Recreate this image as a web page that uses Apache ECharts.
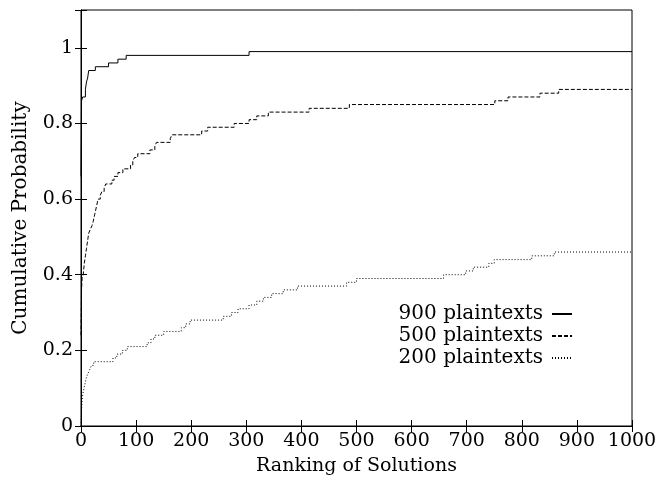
<!DOCTYPE html>
<html>
<head>
<meta charset="utf-8">
<script src="https://cdn.jsdelivr.net/npm/echarts@6/dist/echarts.min.js"></script>
<style>
  html, body { margin: 0; padding: 0; background: #fff; }
  #chart { width: 658px; height: 477px; }
</style>
</head>
<body>
<div id="chart"></div>
<script>
// 900 plaintexts
var rank900 = [0, 1, 3, 8, 10, 12, 14, 26, 50, 67, 82, 305, 1000];
var prob900 = [0.66, 0.86, 0.87, 0.89, 0.91, 0.92, 0.94, 0.95, 0.96, 0.97, 0.98, 0.99, 0.99];

// 500 plaintexts
var rank500 = [0, 1, 2, 4, 6, 8, 10, 12, 14, 17, 20, 22, 25, 28, 31, 35, 38, 42, 45, 56, 60, 67, 76, 90, 94, 97, 103,
               125, 134, 137, 162, 165, 219, 230, 278, 305, 319, 340, 414, 487, 751, 775, 833, 867, 1000];
var prob500 = [0.24, 0.36, 0.39, 0.40, 0.43, 0.45, 0.47, 0.49, 0.51, 0.52, 0.53, 0.54, 0.56, 0.58, 0.60, 0.61, 0.62, 0.63, 0.64, 0.65, 0.66, 0.67, 0.68, 0.69, 0.70, 0.71, 0.72,
               0.73, 0.74, 0.75, 0.76, 0.77, 0.78, 0.79, 0.80, 0.81, 0.82, 0.83, 0.84, 0.85, 0.86, 0.87, 0.88, 0.89, 0.89];

// 200 plaintexts
var rank200 = [0, 1, 2, 4, 7, 10, 13, 16, 19, 23, 58, 65, 75, 84, 120, 127, 134, 150, 182, 190, 198, 258, 273, 285,
               305, 319, 331, 346, 367, 393, 482, 500, 658, 698, 712, 740, 750, 818, 859, 1000];
var prob200 = [0.00, 0.04, 0.07, 0.09, 0.11, 0.13, 0.14, 0.15, 0.16, 0.17, 0.18, 0.19, 0.20, 0.21, 0.22, 0.23, 0.24, 0.25, 0.26, 0.27, 0.28, 0.29, 0.30, 0.31,
               0.32, 0.33, 0.34, 0.35, 0.36, 0.37, 0.38, 0.39, 0.40, 0.41, 0.42, 0.43, 0.44, 0.45, 0.46, 0.46];

var seriesNames = ['900 plaintexts', '500 plaintexts', '200 plaintexts'];

function pairs(xs, ys) {
    return xs.map(function (x, i) { return [x, ys[i]]; });
}

var font = 'DejaVu Serif';
var chart = echarts.init(document.getElementById('chart'), null, { renderer: 'canvas' });

var tickStyle = { inside: true, length: 6, lineStyle: { color: '#000', width: 1 } };

var option = {
    animation: false,
    backgroundColor: '#fff',
    grid: {
        left: 81, right: 26, top: 10, bottom: 51,
        outerBoundsMode: 'none', containLabel: false,
        show: true, borderColor: '#000', borderWidth: 1, backgroundColor: 'transparent'
    },
    legend: {
        data: seriesNames,
        orient: 'vertical',
        align: 'right',
        right: 80,
        top: 299,
        itemWidth: 20,
        itemHeight: 10,
        itemGap: 2,
        itemStyle: { opacity: 0 },
        textStyle: { fontFamily: font, fontSize: 20, color: '#000', padding: [0, 4, 0, 0] }
    },
    xAxis: [{
        type: 'value', min: 0, max: 1000, interval: 100,
        name: 'Ranking of Solutions', nameLocation: 'middle', nameGap: 31,
        nameTextStyle: { fontFamily: font, fontSize: 19, color: '#000' },
        axisLine: { show: true, lineStyle: { color: '#000' } },
        axisTick: tickStyle,
        axisLabel: {
            fontFamily: font, fontSize: 19, color: '#000', margin: 6,
            formatter: function (v) { return String(v); }
        },
        splitLine: { show: false }
    }, {
        type: 'value', min: 0, max: 1000, interval: 100, position: 'top',
        axisLine: { show: true, lineStyle: { color: '#000' } },
        axisTick: tickStyle,
        axisLabel: { show: false },
        splitLine: { show: false }
    }],
    yAxis: [{
        type: 'value', min: 0, max: 1.1, interval: 0.2,
        name: 'Cumulative Probability', nameLocation: 'middle', nameGap: 50,
        nameTextStyle: { fontFamily: font, fontSize: 20, color: '#000' },
        axisLine: { show: true, lineStyle: { color: '#000' } },
        axisTick: tickStyle,
        axisLabel: {
            fontFamily: font, fontSize: 19, color: '#000', margin: 8,
            formatter: function (v) { return v > 1.05 ? '' : String(+v.toFixed(1)); }
        },
        splitLine: { show: false }
    }, {
        type: 'value', min: 0, max: 1.1, interval: 0.2, position: 'right',
        axisLine: { show: true, lineStyle: { color: '#000' } },
        axisTick: tickStyle,
        axisLabel: { show: false },
        splitLine: { show: false }
    }],
    series: [{
        name: seriesNames[0], type: 'line', step: 'end', symbol: 'none',
        data: pairs(rank900, prob900),
        lineStyle: { color: '#000', width: 1, type: 'solid' },
        itemStyle: { color: '#000' }
    }, {
        name: seriesNames[1], type: 'line', step: 'end', symbol: 'none',
        data: pairs(rank500, prob500),
        lineStyle: { color: '#000', width: 1, type: [4, 2] },
        itemStyle: { color: '#000' }
    }, {
        name: seriesNames[2], type: 'line', step: 'end', symbol: 'none',
        data: pairs(rank200, prob200),
        lineStyle: { color: '#000', width: 1, type: [1, 2] },
        itemStyle: { color: '#000' }
    }]
};

chart.setOption(option);
</script>
</body>
</html>
